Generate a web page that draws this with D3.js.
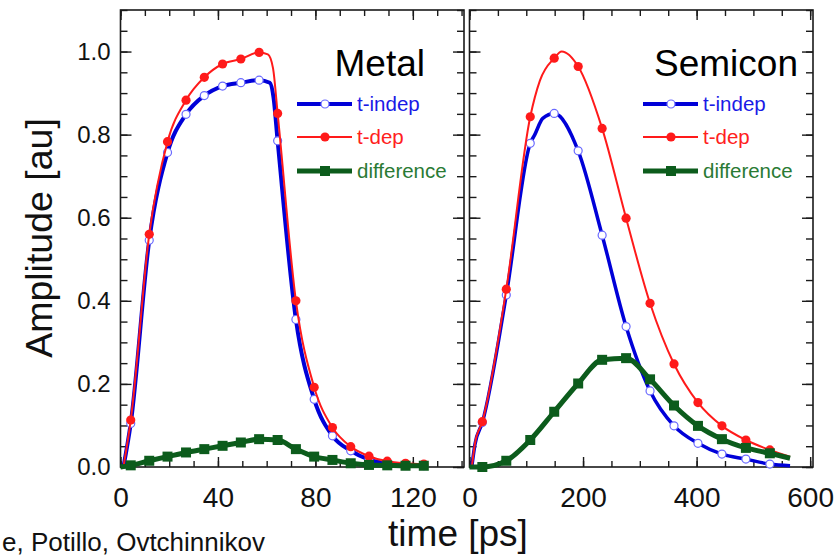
<!DOCTYPE html>
<html>
<head>
<meta charset="utf-8">
<script src="https://cdn.jsdelivr.net/npm/d3@7"></script>
<style>
  body { margin: 0; background: #fff; }
  svg { display: block; }
</style>
</head>
<body>
<script>
// Metal panel: marker times (ps) and amplitudes
const metalT     = [4.2, 11.8, 19.3, 26.9, 34.4, 41.9, 49.4, 56.9, 64.5, 72.0, 79.5, 87.0, 94.5, 102.0, 109.5, 117.0, 124.5];
const metalIndep = [0.105, 0.546, 0.757, 0.849, 0.894, 0.917, 0.925, 0.931, 0.785, 0.355, 0.163, 0.075, 0.039, 0.018, 0.009, 0.005, 0.003];
const metalDep   = [0.113, 0.560, 0.783, 0.883, 0.938, 0.970, 0.982, 0.998, 0.851, 0.400, 0.192, 0.095, 0.049, 0.026, 0.014, 0.009, 0.007];
const metalDiff  = [0.004, 0.015, 0.025, 0.035, 0.043, 0.051, 0.059, 0.067, 0.065, 0.043, 0.025, 0.017, 0.009, 0.005, 0.004, 0.003, 0.003];
// extra points on the curves between markers
const metalIndepExtra = [[1.2, 0], [61.3, 0.925], [62.8, 0.89]];
const metalDepExtra   = [[1.2, 0], [60.5, 0.993], [62.6, 0.96]];
const metalDiffExtra  = [[0, 0]];

// Semicon panel
const semiT     = [22.6, 64.8, 107.0, 149.2, 191.4, 233.6, 275.8, 318.0, 360.2, 402.4, 444.6, 486.8, 529.0];
const semiIndep = [0.107, 0.414, 0.779, 0.851, 0.761, 0.558, 0.338, 0.183, 0.099, 0.057, 0.031, 0.019, 0.007];
const semiDep   = [0.109, 0.428, 0.843, 0.984, 0.964, 0.815, 0.599, 0.394, 0.248, 0.155, 0.099, 0.065, 0.041];
const semiDiff  = [0.000, 0.015, 0.065, 0.133, 0.201, 0.258, 0.262, 0.211, 0.148, 0.099, 0.067, 0.046, 0.033];
const semiIndepExtra = [[4, 0], [9.7, 0.055], [115, 0.80], [129, 0.839], [564.6, 0.003]];
const semiDepExtra   = [[4, 0], [9.7, 0.057], [124, 0.93], [162.4, 1.0], [564.6, 0.025]];
const semiDiffExtra  = [[0, 0], [564.6, 0.021]];

const yTicks = [0, 0.2, 0.4, 0.6, 0.8, 1.0];
const metalXTicks = [0, 40, 80, 120];
const semiXTicks = [0, 200, 400, 600];
const legendNames = ["t-indep", "t-dep", "difference"];

const font = "'Liberation Sans', Arial, Helvetica, sans-serif";
const blue = "#0000d8", red = "#ff1a1a", green = "#0c5c1c";
const W = 837, H = 557;
const yTop = 10, yBottom = 467;

const svg = d3.select("body").append("svg")
    .attr("width", W)
    .attr("height", H)
    .style("font-family", font);

svg.append("rect").attr("width", W).attr("height", H).attr("fill", "#fff");

const y = d3.scaleLinear().domain([0, 1.1]).range([yBottom, yTop]);

function series(t, v, extra) {
    const pts = d3.zip(t, v);
    return { markers: pts, line: d3.sort(pts.concat(extra), d => d[0]) };
}

function panel(o) {
    const x = d3.scaleLinear().domain(o.xDomain).range(o.xRange);
    const g = svg.append("g");
    const x0 = o.xRange[0], x1 = o.xRange[1];

    const strip = s => s.call(a => a.select(".domain").remove())
        .selectAll("line").attr("stroke", "#1a1a1a").attr("stroke-width", 1.4);

    // minor + major ticks on all four sides, pointing inward
    const xMinor = d3.range(0, o.xDomain[1], o.xMinor);
    const yMinor = d3.range(0, 1.1001, 0.05);
    g.append("g").attr("transform", `translate(0,${yBottom})`)
        .call(d3.axisBottom(x).tickValues(xMinor).tickSize(-6).tickFormat("")).call(strip);
    g.append("g").attr("transform", `translate(0,${yTop})`)
        .call(d3.axisTop(x).tickValues(xMinor).tickSize(-6).tickFormat("")).call(strip);
    g.append("g").attr("transform", `translate(0,${yTop})`)
        .call(d3.axisTop(x).tickValues(o.xTicks).tickSize(-10).tickFormat("")).call(strip);
    g.append("g").attr("transform", `translate(${x0},0)`)
        .call(d3.axisLeft(y).tickValues(yMinor).tickSize(-7).tickFormat("")).call(strip);
    g.append("g").attr("transform", `translate(${x1},0)`)
        .call(d3.axisRight(y).tickValues(yMinor).tickSize(-7).tickFormat("")).call(strip);
    g.append("g").attr("transform", `translate(${x1},0)`)
        .call(d3.axisRight(y).tickValues(yTicks).tickSize(-11).tickFormat("")).call(strip);

    const xb = g.append("g").attr("transform", `translate(0,${yBottom})`)
        .call(d3.axisBottom(x).tickValues(o.xTicks).tickSize(-10).tickPadding(20).tickFormat(d3.format("d")));
    strip(xb);
    xb.selectAll("text").attr("font-size", 28).attr("font-family", font).attr("fill", "#111");

    const yl = g.append("g").attr("transform", `translate(${x0},0)`)
        .call(d3.axisLeft(y).tickValues(yTicks).tickSize(-11).tickPadding(10).tickFormat(d3.format(".1f")));
    strip(yl);
    if (o.yLabels) {
        yl.selectAll("text").attr("font-size", 24).attr("font-family", font).attr("fill", "#111");
    } else {
        yl.selectAll("text").remove();
    }

    g.append("rect")
        .attr("x", x0).attr("y", yTop)
        .attr("width", x1 - x0).attr("height", yBottom - yTop)
        .attr("fill", "none").attr("stroke", "#1a1a1a").attr("stroke-width", 1.6);

    const line = d3.line().x(d => x(d[0])).y(d => y(d[1])).curve(d3.curveMonotoneX);
    const plot = g.append("g");

    // t-indep
    plot.append("path").datum(o.indep.line).attr("d", line)
        .attr("fill", "none").attr("stroke", blue).attr("stroke-width", o.blueWidth);
    plot.selectAll(".ci").data(o.indep.markers).join("circle")
        .attr("cx", d => x(d[0])).attr("cy", d => y(d[1])).attr("r", 4)
        .attr("fill", "#fff").attr("stroke", "#6a6aff").attr("stroke-width", 1.2);

    // t-dep
    plot.append("path").datum(o.dep.line).attr("d", line)
        .attr("fill", "none").attr("stroke", red).attr("stroke-width", 2);
    plot.selectAll(".cd").data(o.dep.markers).join("circle")
        .attr("cx", d => x(d[0])).attr("cy", d => y(d[1])).attr("r", 4.6)
        .attr("fill", red);

    // difference
    plot.append("path").datum(o.diff.line).attr("d", line)
        .attr("fill", "none").attr("stroke", green).attr("stroke-width", 5);
    plot.selectAll(".sq").data(o.diff.markers).join("rect")
        .attr("x", d => x(d[0]) - 5).attr("y", d => y(d[1]) - 5)
        .attr("width", 10).attr("height", 10)
        .attr("fill", green);

    // title
    g.append("text")
        .attr("x", o.titleX).attr("y", 76)
        .attr("text-anchor", "end")
        .attr("font-size", 37)
        .attr("fill", "#000")
        .text(o.title);

    // legend
    const lg = g.append("g");
    const rows = [104, 137, 171];
    const lx0 = o.legendX, lx1 = o.legendX + 55, lm = o.legendX + 28;
    lg.append("line").attr("x1", lx0).attr("x2", lx1).attr("y1", rows[0]).attr("y2", rows[0])
        .attr("stroke", blue).attr("stroke-width", 4);
    lg.append("circle").attr("cx", lm).attr("cy", rows[0]).attr("r", 4)
        .attr("fill", "#fff").attr("stroke", "#6a6aff").attr("stroke-width", 1.2);
    lg.append("line").attr("x1", lx0).attr("x2", lx1).attr("y1", rows[1]).attr("y2", rows[1])
        .attr("stroke", red).attr("stroke-width", 2);
    lg.append("circle").attr("cx", lm).attr("cy", rows[1]).attr("r", 4.6).attr("fill", red);
    lg.append("line").attr("x1", lx0).attr("x2", lx1).attr("y1", rows[2]).attr("y2", rows[2])
        .attr("stroke", green).attr("stroke-width", 5);
    lg.append("rect").attr("x", lm - 5).attr("y", rows[2] - 5).attr("width", 10).attr("height", 10)
        .attr("fill", green);
    const lcol = ["#1a1ae6", "#ff2020", "#2a7a34"];
    lg.selectAll(".lt").data(legendNames).join("text")
        .attr("x", lx1 + 5).attr("y", (d, i) => rows[i])
        .attr("dy", "0.35em")
        .attr("font-size", 20.5)
        .attr("fill", (d, i) => lcol[i])
        .text(d => d);
}

panel({
    xDomain: [0, 141], xRange: [120.5, 464], xMinor: 10, xTicks: metalXTicks,
    indep: series(metalT, metalIndep, metalIndepExtra),
    dep: series(metalT, metalDep, metalDepExtra),
    diff: series(metalT, metalDiff, metalDiffExtra),
    blueWidth: 4, yLabels: true,
    title: "Metal", titleX: 425, legendX: 297
});

panel({
    xDomain: [0, 605], xRange: [469.5, 813], xMinor: 50, xTicks: semiXTicks,
    indep: series(semiT, semiIndep, semiIndepExtra),
    dep: series(semiT, semiDep, semiDepExtra),
    diff: series(semiT, semiDiff, semiDiffExtra),
    blueWidth: 3.5, yLabels: false,
    title: "Semicon", titleX: 798, legendX: 643
});

// axis titles
svg.append("text")
    .attr("transform", "translate(52,238) rotate(-90)")
    .attr("text-anchor", "middle")
    .attr("font-size", 37.5)
    .attr("fill", "#111")
    .text("Amplitude [au]");

svg.append("text")
    .attr("x", 458).attr("y", 546)
    .attr("text-anchor", "middle")
    .attr("font-size", 37)
    .attr("fill", "#111")
    .text("time [ps]");

// credit line at the bottom edge (cropped in the source, kept inside here)
svg.append("text")
    .attr("x", 2).attr("y", 551)
    .attr("font-size", 26)
    .attr("fill", "#111")
    .text("e, Potillo, Ovtchinnikov");
</script>
</body>
</html>
